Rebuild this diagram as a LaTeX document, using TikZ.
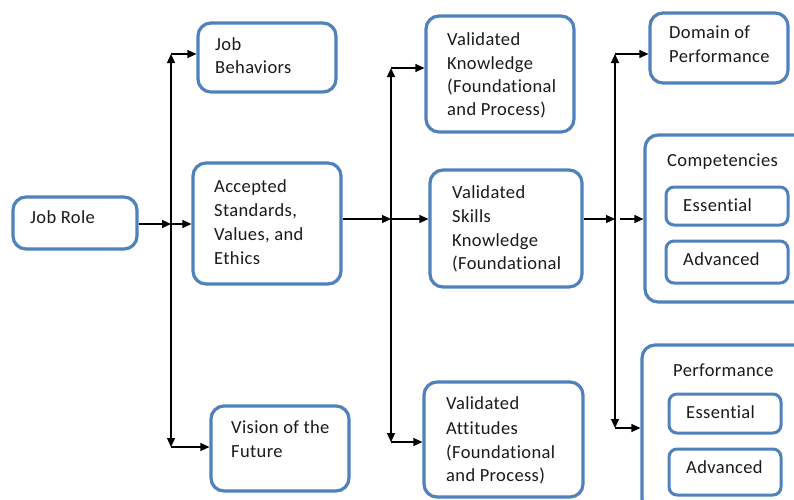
\documentclass[tikz,border=0pt]{standalone}
\usepackage{fontspec}
\setmainfont{Carlito}[Ligatures=NoCommon, LetterSpace=2]
\usetikzlibrary{arrows.meta}
\definecolor{boxblue}{HTML}{4F81BD}
\definecolor{ink}{HTML}{1A1A1A}
\begin{document}
\begin{tikzpicture}[x=1pt,y=-1pt,
  box/.style={draw=boxblue, line width=3.2pt, rounded corners=13pt, inner sep=0pt, fill=white},
  subbox/.style={draw=boxblue, line width=3pt, rounded corners=8pt, inner sep=0pt, fill=white},
  lbl/.style={anchor=base west, inner sep=0pt, text=ink, align=left,
    font=\fontsize{18.5}{24}\selectfont},
  link/.style={line width=1.3pt, -{Triangle[length=9pt,width=8pt]}},
  both/.style={line width=1.3pt, {Triangle[length=9pt,width=8pt]}-{Triangle[length=9pt,width=8pt]}}
]
\useasboundingbox (0,0) rectangle (794,499);

% boxes
\node[box, minimum width=124pt, minimum height=52pt] (role) at (75,223) {};
\node[box, minimum width=138pt, minimum height=69pt] (behav) at (267,57.5) {};
\node[box, minimum width=148pt, minimum height=121pt] (stand) at (267,223.5) {};
\node[box, minimum width=138pt, minimum height=85pt] (vision) at (280,448.5) {};
\node[box, minimum width=148pt, minimum height=116pt] (know) at (500,74) {};
\node[box, minimum width=152pt, minimum height=117pt] (skills) at (506,228.5) {};
\node[box, minimum width=159pt, minimum height=115pt] (attit) at (503.5,439.5) {};
\node[box, minimum width=138pt, minimum height=70pt] (domain) at (719,48) {};
\node[box, minimum width=163pt, minimum height=167pt] (comp) at (726.5,218.5) {};
\node[subbox, minimum width=122pt, minimum height=38pt] (compess) at (727,206) {};
\node[subbox, minimum width=122pt, minimum height=42pt] (compadv) at (727,262) {};
\node[box, minimum width=168pt, minimum height=167pt] (perf) at (726,428.5) {};
\node[subbox, minimum width=112pt, minimum height=39pt] (perfess) at (725,413.5) {};
\node[subbox, minimum width=112pt, minimum height=46pt] (perfadv) at (725,472) {};

% labels
\node[lbl] (troleA) at (30,223) {Job Role};
\node[lbl] (tbehavA) at (215,50) {Job};
\node[lbl] (tbehavB) at (215,73) {Behaviors};
\node[lbl] (tstandA) at (214,192) {Accepted};
\node[lbl] (tstandB) at (214,216) {Standards,};
\node[lbl] (tstandC) at (214,240) {Values, and};
\node[lbl] (tstandD) at (214,264) {Ethics};
\node[lbl] (tvisionA) at (231,433) {Vision of the};
\node[lbl] (tvisionB) at (231,457) {Future};
\node[lbl] (tknowA) at (447,45) {Validated};
\node[lbl] (tknowB) at (447,69) {Knowledge};
\node[lbl] (tknowC) at (447,92) {(Foundational};
\node[lbl] (tknowD) at (447,115) {and Process)};
\node[lbl] (tskillsA) at (452,198) {Validated};
\node[lbl] (tskillsB) at (452,222) {Skills};
\node[lbl] (tskillsC) at (452,246) {Knowledge};
\node[lbl] (tskillsD) at (452,269) {(Foundational};
\node[lbl] (tattitA) at (446,409) {Validated};
\node[lbl] (tattitB) at (446,434) {Attitudes};
\node[lbl] (tattitC) at (446,458) {(Foundational};
\node[lbl] (tattitD) at (446,481) {and Process)};
\node[lbl] (tdomainA) at (669,38) {Domain of};
\node[lbl] (tdomainB) at (669,62) {Performance};
\node[lbl] (tcomp) at (667,166) {Competencies};
\node[lbl] (tcompess) at (683,211) {Essential};
\node[lbl] (tcompadv) at (683,265) {Advanced};
\node[lbl] (tperf) at (673,376) {Performance};
\node[lbl] (tperfess) at (686,418) {Essential};
\node[lbl] (tperfadv) at (686,473) {Advanced};

% junction points of the three branching stages
\coordinate (j1) at (171,224);
\coordinate (j1t) at (171,54);
\coordinate (j1b) at (171,447);
\coordinate (j2) at (391,219);
\coordinate (j2t) at (391,68);
\coordinate (j2b) at (391,442);
\coordinate (j3) at (615,219);
\coordinate (j3t) at (615,54);
\coordinate (j3b) at (615,428);
\coordinate (j3s) at (620,219);

% stage 1
\draw[link] (role.east |- j1) -- (j1);
\draw[link] (j1) -- (stand.west |- j1);
\draw[both] (j1t) -- (j1b);
\draw[link] (j1t) -- (behav.west |- j1t);
\draw[link] (j1b) -- (vision.west |- j1b);

% stage 2
\draw[link] (stand.east |- j2) -- (j2);
\draw[link] (j2) -- (skills.west |- j2);
\draw[both] (j2t) -- (j2b);
\draw[link] (j2t) -- (know.west |- j2t);
\draw[link] (j2b) -- (attit.west |- j2b);

% stage 3
\draw[link] (skills.east |- j3) -- (j3);
\draw[link] (j3s) -- (comp.west |- j3s);
\draw[both] (j3t) -- (j3b);
\draw[link] (j3t) -- (domain.west |- j3t);
\draw[link] (j3b) -- (perf.west |- j3b);
\end{tikzpicture}
\end{document}
